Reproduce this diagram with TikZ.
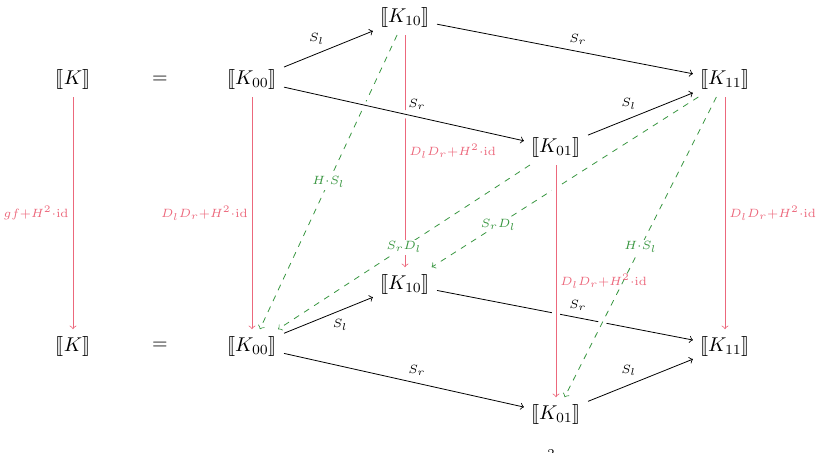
\documentclass[tikz,border=0pt]{standalone}
\usepackage{amsmath,amssymb,stmaryrd}
\usepackage{tikz}
\usetikzlibrary{positioning}
\definecolor{mapred}{RGB}{236,104,124}
\definecolor{mapgreen}{RGB}{56,150,64}
\tikzset{lab/.style={inner sep=2pt, font=\fontsize{9}{11}\selectfont,
    execute at begin node=$\scriptstyle, execute at end node=$},
  over/.style={preaction={draw=white, -, line width=4pt}}}

\begin{document}
\begin{tikzpicture}[x=1.1cm, y=1.1cm, node distance={4.686cm},
  smap/.style = {->},
  dmap/.style = {->, mapred},
  hmap/.style = {->, dashed, mapgreen},
  desc/.style = {lab, fill=white, inner sep=1pt, anchor=center}]
\useasboundingbox (0,0) rectangle (13.104,7.248);
\node (Kt) at (1.168,5.968) {$\llbracket K\rrbracket$};
\node (eqt) at (2.56,5.968) {$=$};
\node (K00t) at (4.032,5.968) {$\llbracket K_{00}\rrbracket$};
\node (K10t) at (6.48,6.96) {$\llbracket K_{10}\rrbracket$};
\node (K01t) at (8.896,4.88) {$\llbracket K_{01}\rrbracket$};
\node (K11t) at (11.6,5.968) {$\llbracket K_{11}\rrbracket$};
\node (Kb) [below of=Kt] {$\llbracket K\rrbracket$};
\node (eqb) [below of=eqt] {$=$};
\node (K00b) [below of=K00t] {$\llbracket K_{00}\rrbracket$};
\node (K10b) [below of=K10t] {$\llbracket K_{10}\rrbracket$};
\node (K01b) [below of=K01t] {$\llbracket K_{01}\rrbracket$};
\node (K11b) [below of=K11t] {$\llbracket K_{11}\rrbracket$};
\node[lab, anchor=north, inner sep=0pt] (cut) at (8.816,0.06) {2};
% top face
\draw[dmap] (K10t) -- node[lab, auto] {D_lD_r+H^2\cdot\mathrm{id}} (K10b);
\draw[hmap] (K10t) -- node[desc] {H\cdot S_l} (K00b);
\draw[smap] (K00t) -- node[lab, auto] {S_l} (K10t);
\draw[smap] (K10t) -- node[lab, auto] {S_r} (K11t);
\draw[smap, over] (K00t) -- node[lab, auto] {S_r} (K01t);
\draw[smap] (K01t) -- node[lab, auto] {S_l} (K11t);
% bottom face
\draw[smap] (K00b) -- node[lab, auto, swap] {S_l} (K10b);
\draw[smap] (K10b) -- node[lab, auto] {S_r} (K11b);
\draw[smap] (K00b) -- node[lab, auto] {S_r} (K01b);
\draw[smap] (K01b) -- node[lab, auto] {S_l} (K11b);
% vertical maps
\draw[dmap] (Kt) -- node[lab, auto, swap] {gf+H^2\cdot\mathrm{id}} (Kb);
\draw[dmap] (K00t) -- node[lab, auto, swap] {D_lD_r+H^2\cdot\mathrm{id}} (K00b);
\draw[dmap] (K11t) -- node[lab, auto] {D_lD_r+H^2\cdot\mathrm{id}} (K11b);
\draw[hmap] (K01t) -- node[desc] {S_rD_l} (K00b);
\draw[hmap] (K11t) -- node[desc, near end] {S_rD_l} (K10b);
\draw[hmap, over] (K11t) -- node[desc] {H\cdot S_l} (K01b);
\draw[dmap, over] (K01t) -- node[lab, auto] {D_lD_r+H^2\cdot\mathrm{id}} (K01b);
\end{tikzpicture}
\end{document}
